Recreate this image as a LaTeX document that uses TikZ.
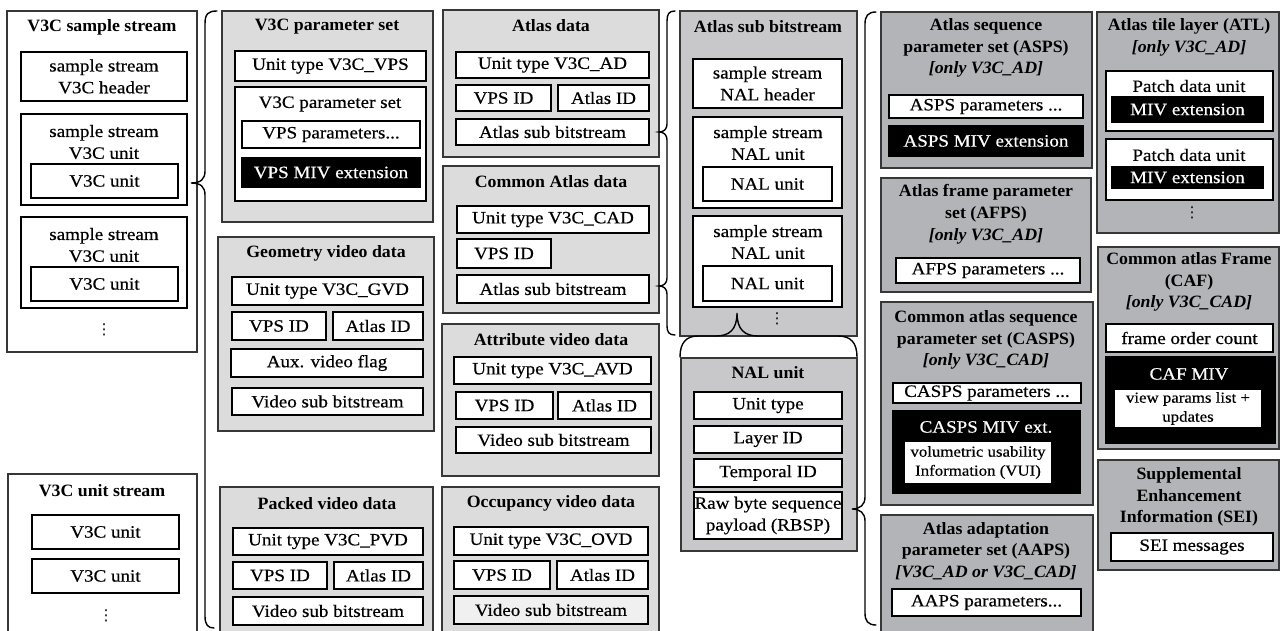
\documentclass[tikz,border=0pt]{standalone}
\usepackage{fontspec}
\setmainfont{Liberation Serif}[
  UprightFeatures={FakeStretch=1.1, FakeBold=0.5},
  BoldFeatures={FakeStretch=1.03},
  BoldItalicFeatures={FakeStretch=1.03}]
\newfontfamily\dotsfont{DejaVu Sans}
\definecolor{boxLight}{RGB}{220,220,221}
\definecolor{boxMid}{RGB}{200,200,202}
\definecolor{boxDark}{RGB}{179,180,183}
\definecolor{boxPale}{RGB}{240,240,241}
\definecolor{edgeGray}{RGB}{55,55,55}
\newcommand\mainsize{\fontsize{17.3}{21.8}\selectfont}
\newcommand\smallsize{\fontsize{15.3}{19}\selectfont}
% \bx[style]{name}{x1}{y1}{x2}{y2}{text}: a box spanning two corners, text centred
\newcommand\bx[7][]{%
  \pgfmathsetmacro\bxw{#5-#3}\pgfmathsetmacro\bxh{#6-#4}%
  \node[minimum width=\bxw pt, minimum height=\bxh pt, #1] (#2)
    at ({(#3+#5)/2},{(#4+#6)/2}) {#7};}
\newcommand\vdotsym{{\dotsfont ⋮}}

\begin{document}
\begin{tikzpicture}[x=1pt,y=-1pt,
  every node/.style={font=\mainsize, inner sep=0pt, outer sep=0pt, align=center},
  frame/.style={draw=edgeGray, line width=1.4pt, fill=white},
  panel/.style={draw=edgeGray, line width=1.5pt},
  light/.style={panel, fill=boxLight},
  mid/.style={panel, fill=boxMid},
  dark/.style={panel, fill=boxDark},
  inbox/.style={draw=black, line width=1.3pt, fill=white},
  pale/.style={draw=black, line width=1.3pt, fill=boxPale},
  blackbox/.style={draw=black, line width=1.3pt, fill=black, text=white},
  title/.style={font=\mainsize\bfseries},
  small/.style={font=\smallsize},
  dotsmark/.style={font=\fontsize{15}{15}\selectfont},
  brace/.style={draw=black, line width=1.4pt, line cap=round},
  ]
\fill[white] (0,0) rectangle (1280,631);
\useasboundingbox (0,0) rectangle (1280,631);

% ---------------- V3C sample stream ----------------
\bx[frame]{ss}{7}{11}{197}{352}{}
\node[title] (ssT) at (102,27) {V3C sample stream};
\bx[inbox]{sshdr}{21}{52}{187}{101}{sample stream\\V3C header}
\bx[inbox]{ssu1}{21}{114}{187}{205}{}
\node (ssu1T) at (104,142) {sample stream\\V3C unit};
\bx[inbox]{ssu1v}{31}{164}{178}{198}{V3C unit}
\bx[inbox]{ssu2}{21}{217}{187}{308}{}
\node (ssu2T) at (104,245) {sample stream\\V3C unit};
\bx[inbox]{ssu2v}{31}{267}{178}{301}{V3C unit}
\node[dotsmark] (ssdots) at (104,330) {\vdotsym};

% ---------------- V3C unit stream ----------------
\bx[frame]{us}{8}{474}{197}{640}{}
\node[title] (usT) at (102,491) {V3C unit stream};
\bx[inbox]{usu1}{32}{515}{179}{549}{V3C unit}
\bx[inbox]{usu2}{32}{559}{179}{593}{V3C unit}
\node[dotsmark] (usdots) at (106,616) {\vdotsym};

% brace: V3C unit -> unit kinds
\coordinate (tipA) at (191,183);
\draw[brace] (217,11) .. controls (208,11) and (205,14) .. (205,24) -- (205,171)
  .. controls (205,179) and (201,183) .. (tipA)
  .. controls (201,183) and (205,187) .. (205,195) -- (205,616)
  .. controls (205,625) and (208,628) .. (214,628);

% ---------------- V3C parameter set ----------------
\bx[light]{vps}{222}{11}{433}{222}{}
\node[title] (vpsT) at (327,27) {V3C parameter set};
\bx[inbox]{vpsut}{235}{51}{426}{81}{Unit type V3C\_VPS}
\bx[inbox]{vpsset}{235}{87}{426}{201}{}
\node (vpssetT) at (330,104) {V3C parameter set};
\bx[inbox]{vpspar}{242}{121}{420}{148}{VPS parameters...}
\bx[blackbox]{vpsmiv}{242}{158}{420}{187}{VPS MIV extension}

% ---------------- Geometry video data ----------------
\bx[light]{gvd}{218}{237}{434}{431}{}
\node[title] (gvdT) at (326,253) {Geometry video data};
\bx[inbox]{gvdut}{232}{277}{423}{305}{Unit type V3C\_GVD}
\bx[inbox]{gvdvps}{232}{312}{326}{340}{VPS ID}
\bx[inbox]{gvdatl}{333}{312}{423}{340}{Atlas ID}
\bx[inbox]{gvdaux}{231}{349}{423}{377}{Aux. video flag}
\bx[inbox]{gvdvsb}{232}{388}{423}{415}{Video sub bitstream}

% ---------------- Packed video data ----------------
\bx[light]{pvd}{220}{487}{433}{640}{}
\node[title] (pvdT) at (327,504) {Packed video data};
\bx[inbox]{pvdut}{233}{528}{423}{555}{Unit type V3C\_PVD}
\bx[inbox]{pvdvps}{233}{562}{327}{589}{VPS ID}
\bx[inbox]{pvdatl}{334}{562}{423}{589}{Atlas ID}
\bx[inbox]{pvdvsb}{233}{597}{423}{625}{Video sub bitstream}

% ---------------- Atlas data ----------------
\bx[light]{ad}{443}{10}{659}{157}{}
\node[title] (adT) at (551,26) {Atlas data};
\bx[inbox]{adut}{456}{52}{649}{78}{Unit type V3C\_AD}
\bx[inbox]{advps}{456}{85}{551}{111}{VPS ID}
\bx[inbox]{adatl}{558}{85}{649}{111}{Atlas ID}
\bx[inbox]{adasb}{456}{119}{649}{145}{Atlas sub bitstream}

% ---------------- Common Atlas data ----------------
\bx[light]{cad}{443}{166}{659}{313}{}
\node[title] (cadT) at (551,182) {Common Atlas data};
\bx[inbox]{cadut}{457}{206}{649}{233}{Unit type V3C\_CAD}
\bx[inbox]{cadvps}{457}{239}{551}{268}{VPS ID}
\bx[inbox]{cadasb}{457}{275}{649}{303}{Atlas sub bitstream}

% ---------------- Attribute video data ----------------
\bx[light]{avd}{442}{324}{659}{476}{}
\node[title] (avdT) at (551,340) {Attribute video data};
\bx[inbox]{avdut}{454}{357}{651}{384}{Unit type V3C\_AVD}
\bx[inbox]{avdvps}{456}{392}{553}{419}{VPS ID}
\bx[inbox]{avdatl}{558}{392}{651}{419}{Atlas ID}
\bx[inbox]{avdvsb}{456}{427}{651}{453}{Video sub bitstream}

% ---------------- Occupancy video data ----------------
\bx[light]{ovd}{442}{487}{659}{640}{}
\node[title] (ovdT) at (551,503) {Occupancy video data};
\bx[inbox]{ovdut}{454}{527}{648}{555}{Unit type V3C\_OVD}
\bx[inbox]{ovdvps}{454}{561}{550}{589}{VPS ID}
\bx[inbox]{ovdatl}{557}{561}{648}{589}{Atlas ID}
\bx[pale]{ovdvsb}{454}{596}{648}{624}{Video sub bitstream}

% brace: atlas sub bitstreams -> atlas sub bitstream structure
\coordinate (tipB1) at (659,132);
\coordinate (tipB2) at (659,286);
\draw[brace] (675,11) .. controls (669,11) and (667,14) .. (667,21) -- (667,124)
  .. controls (667,129) and (664,132) .. (tipB1)
  .. controls (664,132) and (667,135) .. (667,140) -- (667,278)
  .. controls (667,283) and (664,286) .. (tipB2)
  .. controls (664,286) and (667,289) .. (667,294) -- (667,326)
  .. controls (667,332) and (669,335) .. (675,335);

% ---------------- Atlas sub bitstream ----------------
\bx[mid]{asb}{680}{11}{857}{336}{}
\node[title] (asbT) at (768,27) {Atlas sub bitstream};
\bx[inbox]{asbhdr}{693}{59}{842}{108}{sample stream\\NAL header}
\bx[inbox]{asbu1}{693}{117}{842}{208}{}
\node (asbu1T) at (768,143) {sample stream\\NAL unit};
\bx[inbox]{asbu1n}{703}{167}{832}{201}{NAL unit}
\bx[inbox]{asbu2}{693}{216}{842}{307}{}
\node (asbu2T) at (768,242) {sample stream\\NAL unit};
\bx[inbox]{asbu2n}{703}{266}{832}{301}{NAL unit}
\node[dotsmark] (asbdots) at (777,319) {\vdotsym};

% brace: NAL unit -> its structure
\coordinate (tipC) at (737,313);
\draw[brace] (680,357) .. controls (680,343) and (686,336) .. (698,336) -- (716,336)
  .. controls (729,336) and (737,330) .. (tipC)
  .. controls (737,330) and (745,336) .. (758,336) -- (838,336)
  .. controls (851,336) and (857,343) .. (857,357);

% ---------------- NAL unit ----------------
\bx[mid]{nal}{681}{358}{857}{551}{}
\node[title] (nalT) at (768,373) {NAL unit};
\bx[inbox]{nalut}{694}{392}{842}{419}{Unit type}
\bx[inbox]{nallid}{694}{426}{842}{453}{Layer ID}
\bx[inbox]{naltid}{694}{459}{842}{487}{Temporal ID}
\bx[inbox]{nalrbsp}{694}{492}{842}{539}{Raw byte sequence\\payload (RBSP)}

% brace: RBSP -> payload kinds
\coordinate (tipD) at (852,509);
\draw[brace] (876,12) .. controls (868,12) and (865,16) .. (865,24) -- (865,497)
  .. controls (865,505) and (860,509) .. (tipD)
  .. controls (860,509) and (865,513) .. (865,521) -- (865,613)
  .. controls (865,621) and (868,625) .. (876,625);

% ---------------- ASPS ----------------
\bx[dark]{asps}{881}{12}{1092}{168}{}
\node[title] (aspsT) at (986,48) {Atlas sequence\\parameter set (ASPS)\\\textit{[only V3C\_AD]}};
\bx[inbox]{aspspar}{889}{95}{1083}{118}{ASPS parameters ...}
\bx[blackbox]{aspsmiv}{889}{126}{1083}{156}{ASPS MIV extension}

% ---------------- AFPS ----------------
\bx[dark]{afps}{881}{178}{1091}{292}{}
\node[title] (afpsT) at (986,214) {Atlas frame parameter\\set (AFPS)\\\textit{[only V3C\_AD]}};
\bx[inbox]{afpspar}{896}{258}{1080}{283}{AFPS parameters ...}

% ---------------- CASPS ----------------
\bx[dark]{casps}{881}{302}{1093}{505}{}
\node[title] (caspsT) at (986,340) {Common atlas sequence\\parameter set (CASPS)\\\textit{[only V3C\_CAD]}};
\bx[inbox]{caspspar}{893}{383}{1081}{403}{CASPS parameters ...}
\bx[blackbox]{caspsmiv}{893}{411}{1080}{493}{}
\node[text=white] (caspsmivT) at (986,427) {CASPS MIV ext.};
\bx[inbox, small]{vui}{904}{441}{1052}{484}{volumetric usability\\Information (VUI)}

% ---------------- AAPS ----------------
\bx[dark]{aaps}{881}{515}{1093}{640}{}
\node[title] (aapsT) at (986,551) {Atlas adaptation\\parameter set (AAPS)\\\textit{[V3C\_AD or V3C\_CAD]}};
\bx[inbox]{aapspar}{892}{589}{1081}{616}{AAPS parameters...}

% ---------------- ATL ----------------
\bx[dark]{atl}{1097}{12}{1279}{233}{}
\node[title] (atlT) at (1189,37) {Atlas tile layer (ATL)\\\textit{[only V3C\_AD]}};
\bx[inbox]{pdu1}{1106}{71}{1273}{131}{}
\node (pdu1T) at (1189,86) {Patch data unit};
\bx[blackbox]{pdu1m}{1112}{97}{1263}{122}{MIV extension}
\bx[inbox]{pdu2}{1106}{139}{1273}{200}{}
\node (pdu2T) at (1189,155) {Patch data unit};
\bx[blackbox]{pdu2m}{1112}{167}{1263}{188}{MIV extension}
\node[dotsmark] (atldots) at (1192,213) {\vdotsym};

% ---------------- CAF ----------------
\bx[dark]{caf}{1098}{247}{1279}{449}{}
\node[title] (cafT) at (1189,282) {Common atlas Frame\\(CAF)\\\textit{[only V3C\_CAD]}};
\bx[inbox]{foc}{1106}{324}{1273}{352}{frame order count}
\bx[blackbox]{cafmiv}{1106}{357}{1275}{443}{}
\node[text=white] (cafmivT) at (1189,374) {CAF MIV};
\bx[inbox, small]{vpl}{1114}{389}{1262}{428}{view params list +\\updates}

% ---------------- SEI ----------------
\bx[dark]{sei}{1098}{460}{1279}{570}{}
\node[title] (seiT) at (1189,497) {Supplemental\\Enhancement\\Information (SEI)};
\bx[inbox]{seimsg}{1111}{533}{1273}{561}{SEI messages}
\end{tikzpicture}
\end{document}
